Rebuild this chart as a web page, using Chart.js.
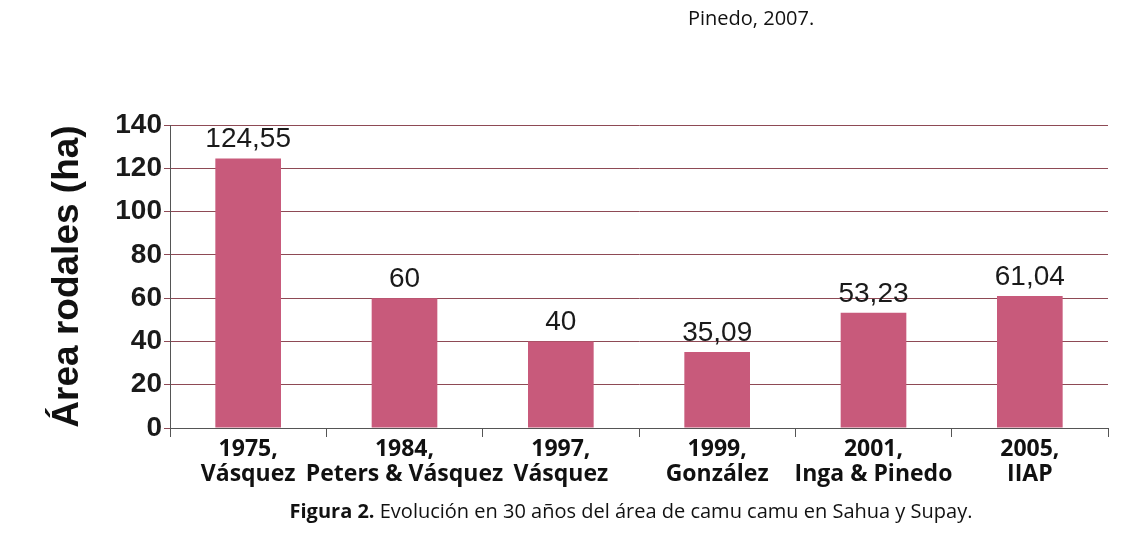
<!DOCTYPE html>
<html>
<head>
<meta charset="utf-8">
<script src="https://cdn.jsdelivr.net/npm/chart.js@4/dist/chart.umd.min.js"></script>
<style>
  html, body { margin: 0; padding: 0; background: #fff; }
  #wrap { position: relative; width: 1127px; height: 544px; }
  #cv { position: absolute; left: 0; top: 0; }
  .txt { position: absolute; white-space: nowrap; color: #111; font-family: "Open Sans", sans-serif; line-height: normal; }
  #src { left: 688px; top: 4px; font-size: 20px; }
  #cap { left: 131px; width: 1000px; text-align: center; top: 497px; font-size: 20px; }
</style>
</head>
<body>
<div id="wrap">
  <canvas id="cv" width="1127" height="544"></canvas>
  <div class="txt" id="src">Pinedo, 2007.</div>
  <div class="txt" id="cap"><b>Figura 2.</b> Evolución en 30 años del área de camu camu en Sahua y Supay.</div>
</div>
<script>
/* Figura 2 — área de camu camu (ha) por fuente */
const categories = [
  ['1975,', 'Vásquez'],
  ['1984,', 'Peters & Vásquez'],
  ['1997,', 'Vásquez'],
  ['1999,', 'González'],
  ['2001,', 'Inga & Pinedo'],
  ['2005,', 'IIAP'],
];
const areaHa = [124.55, 60, 40, 35.09, 53.23, 61.04];
const areaText = ['124,55', '60', '40', '35,09', '53,23', '61,04'];
const yTicks = [0, 20, 40, 60, 80, 100, 120, 140];

const valueLabels = {
  id: 'valueLabels',
  afterDatasetsDraw(chart) {
    const c = chart.ctx;
    const meta = chart.getDatasetMeta(0);
    c.save();
    c.fillStyle = '#1a1a1a';
    c.font = '28px "Liberation Sans", Arial, sans-serif';
    c.textAlign = 'center';
    c.textBaseline = 'bottom';
    meta.data.forEach((bar, i) => {
      c.fillText(areaText[i], bar.x, bar.y - 5);
    });
    c.restore();
  }
};

new Chart(document.getElementById('cv').getContext('2d'), {
  type: 'bar',
  data: {
    labels: categories,
    datasets: [{
      data: areaHa,
      backgroundColor: '#c85a7b',
      borderWidth: 0,
      categoryPercentage: 1,
      barPercentage: 0.42,
    }]
  },
  options: {
    responsive: false,
    animation: false,
    layout: { padding: { top: 125, right: 19, left: 26, bottom: 0 } },
    plugins: { legend: { display: false }, tooltip: { enabled: false } },
    scales: {
      x: {
        afterFit: (s) => { s.height = 116; },
        grid: { offset: true, drawOnChartArea: false, drawTicks: true, tickLength: 9, color: '#555' },
        border: { color: '#555', width: 1 },
        ticks: {
          color: '#111',
          padding: 0,
          font: { family: '"Open Sans", sans-serif', size: 23, weight: 'bold', lineHeight: 1.08 },
          maxRotation: 0,
          autoSkip: false,
        }
      },
      y: {
        min: 0, max: 140,
        afterFit: (s) => { s.width = 144; },
        afterBuildTicks: (s) => { s.ticks = yTicks.map((v) => ({ value: v })); },
        grid: { color: '#8e4a55', lineWidth: 1, tickLength: 6 },
        border: { color: '#555', width: 1 },
        ticks: {
          color: '#1a1a1a',
          padding: 2,
          font: { family: '"Liberation Sans", Arial, sans-serif', size: 28, weight: 'bold' },
        },
        title: {
          display: true,
          text: 'Área rodales (ha)',
          color: '#111',
          padding: { top: 20, bottom: 0 },
          font: { family: '"Liberation Sans", Arial, sans-serif', size: 37, weight: 'bold' },
        }
      }
    }
  },
  plugins: [valueLabels]
});
</script>
</body>
</html>
